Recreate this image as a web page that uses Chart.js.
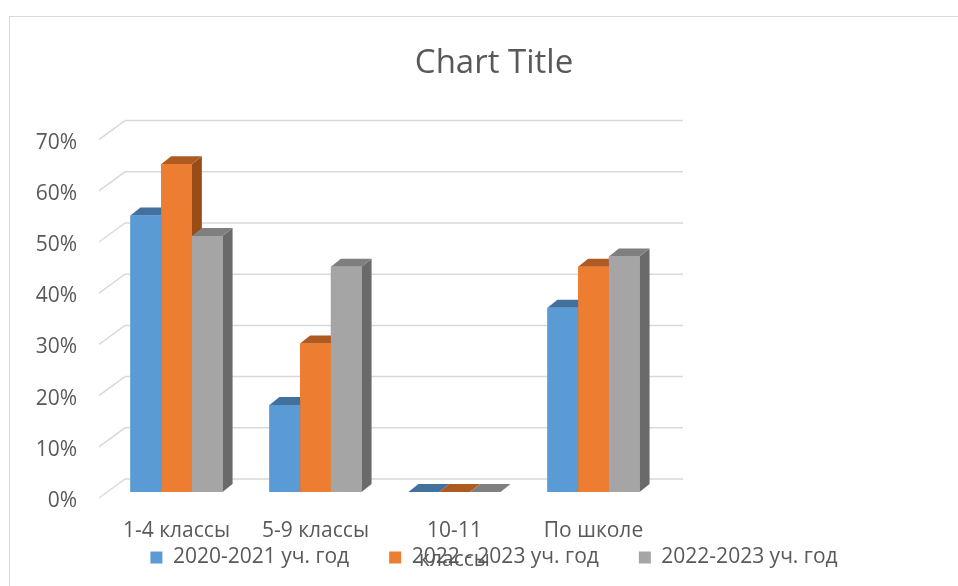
<!DOCTYPE html>
<html>
<head>
<meta charset="utf-8">
<script src="https://cdn.jsdelivr.net/npm/chart.js@4"></script>
<style>
  html, body { margin: 0; padding: 0; background: #fff; overflow: hidden; }
  #frame {
    position: absolute; left: 9px; top: 16px;
    width: 968px; height: 620px;
    border-left: 1px solid #d9d9d9; border-top: 1px solid #d9d9d9;
  }
</style>
</head>
<body>
<div id="frame"><canvas id="bar-chart" width="968" height="620"></canvas></div>
<script>
// data
var categories = ["1-4 классы", "5-9 классы", ["10-11", "классы"], "По школе"];
var year2020 = [0.54, 0.17, 0, 0.36];
var year2022a = [0.64, 0.29, 0, 0.44];
var year2022b = [0.50, 0.44, 0, 0.46];
var seriesNames = ["2020-2021 уч. год", "2022 - 2023 уч. год", "2022-2023 уч. год"];

var fronts = ['#5B9BD5', '#ED7D31', '#A5A5A5'];
var tops = ['#41719C', '#AE5A21', '#7F7F7F'];
var sides = ['#3D6A94', '#9A4C18', '#6A6A6A'];
var depthX = 10, depthY = 8;
var textColor = '#595959';
var fontName = "'Open Sans', sans-serif";

// back wall grid + fake 3d faces
var fake3d = {
  id: 'fake3d',
  afterLayout: function(chart) {
    // legend sits over the second line of the axis labels, like in Excel
    var lg = chart.legend;
    var shift = lg.top - (chart.chartArea.bottom + 15);
    lg.top -= shift;
    lg.bottom -= shift;
  },
  beforeDatasetsDraw: function(chart) {
    var ctx = chart.ctx, area = chart.chartArea, y = chart.scales.y;
    ctx.save();
    ctx.strokeStyle = '#d9d9d9';
    ctx.lineWidth = 1.5;
    y.ticks.forEach(function(t) {
      var py = y.getPixelForValue(t.value);
      ctx.beginPath();
      ctx.moveTo(area.left - 8, py + 6);
      ctx.lineTo(area.left + 18, py - 13);
      ctx.lineTo(area.right + 20, py - 13);
      ctx.stroke();
    });
    ctx.restore();
  },
  afterDatasetsDraw: function(chart) {
    var ctx = chart.ctx;
    ctx.save();
    for (var i = 0; i < categories.length; i++) {
      for (var d = 0; d < chart.data.datasets.length; d++) {
        var bar = chart.getDatasetMeta(d).data[i];
        var p = bar.getProps(['x', 'y', 'base', 'width'], true);
        var l = p.x - p.width / 2, r = p.x + p.width / 2, t = p.y, b = p.base;
        // side
        ctx.fillStyle = sides[d];
        ctx.beginPath();
        ctx.moveTo(r, t); ctx.lineTo(r + depthX, t - depthY);
        ctx.lineTo(r + depthX, b - depthY); ctx.lineTo(r, b);
        ctx.closePath(); ctx.fill();
        // top
        ctx.fillStyle = tops[d];
        ctx.beginPath();
        ctx.moveTo(l, t); ctx.lineTo(r, t);
        ctx.lineTo(r + depthX, t - depthY); ctx.lineTo(l + depthX, t - depthY);
        ctx.closePath(); ctx.fill();
        // front
        ctx.fillStyle = fronts[d];
        ctx.fillRect(l, t, r - l, b - t);
      }
    }
    ctx.restore();
  }
};

var ctxBar = document.getElementById("bar-chart");

var chartGraph = new Chart(ctxBar, {
  type: 'bar',
  data: {
    labels: categories,
    datasets: [
      { label: seriesNames[0], data: year2020, backgroundColor: fronts[0] },
      { label: seriesNames[1], data: year2022a, backgroundColor: fronts[1] },
      { label: seriesNames[2], data: year2022b, backgroundColor: fronts[2] }
    ]
  },
  options: {
    responsive: false,
    animation: false,
    devicePixelRatio: 1,
    categoryPercentage: 0.663,
    barPercentage: 1.0,
    layout: { padding: 0 },
    plugins: {
      title: {
        display: true,
        text: "Chart Title",
        color: textColor,
        font: { family: fontName, size: 33, weight: 'normal' },
        padding: { top: 27, bottom: 50 }
      },
      legend: {
        position: 'bottom',
        labels: {
          boxWidth: 12, boxHeight: 12, padding: 40,
          color: textColor,
          font: { family: fontName, size: 21 }
        }
      },
      tooltip: { enabled: false }
    },
    scales: {
      x: {
        grid: { display: false, drawTicks: false },
        border: { display: false },
        ticks: {
          color: textColor, padding: 25, maxRotation: 0, autoSkip: false,
          font: { family: fontName, size: 21, lineHeight: 1.35 }
        },
        afterFit: function(scale) {
          scale.height = 74;
          scale.paddingLeft = 0;
          scale.paddingRight = 0;
        }
      },
      y: {
        min: 0, max: 0.7,
        grid: { display: false, drawTicks: false },
        border: { display: false },
        ticks: {
          stepSize: 0.1, padding: 30, labelOffset: 9,
          color: textColor,
          font: { family: fontName, size: 21 },
          callback: function(v) { return Math.round(v * 100) + '%'; }
        },
        afterFit: function(scale) { scale.width = 97; }
      },
      yR: {
        position: 'right',
        grid: { display: false },
        border: { display: false },
        ticks: { display: false },
        afterFit: function(scale) { scale.width = 315; }
      }
    }
  },
  plugins: [fake3d]
});
</script>
</body>
</html>
